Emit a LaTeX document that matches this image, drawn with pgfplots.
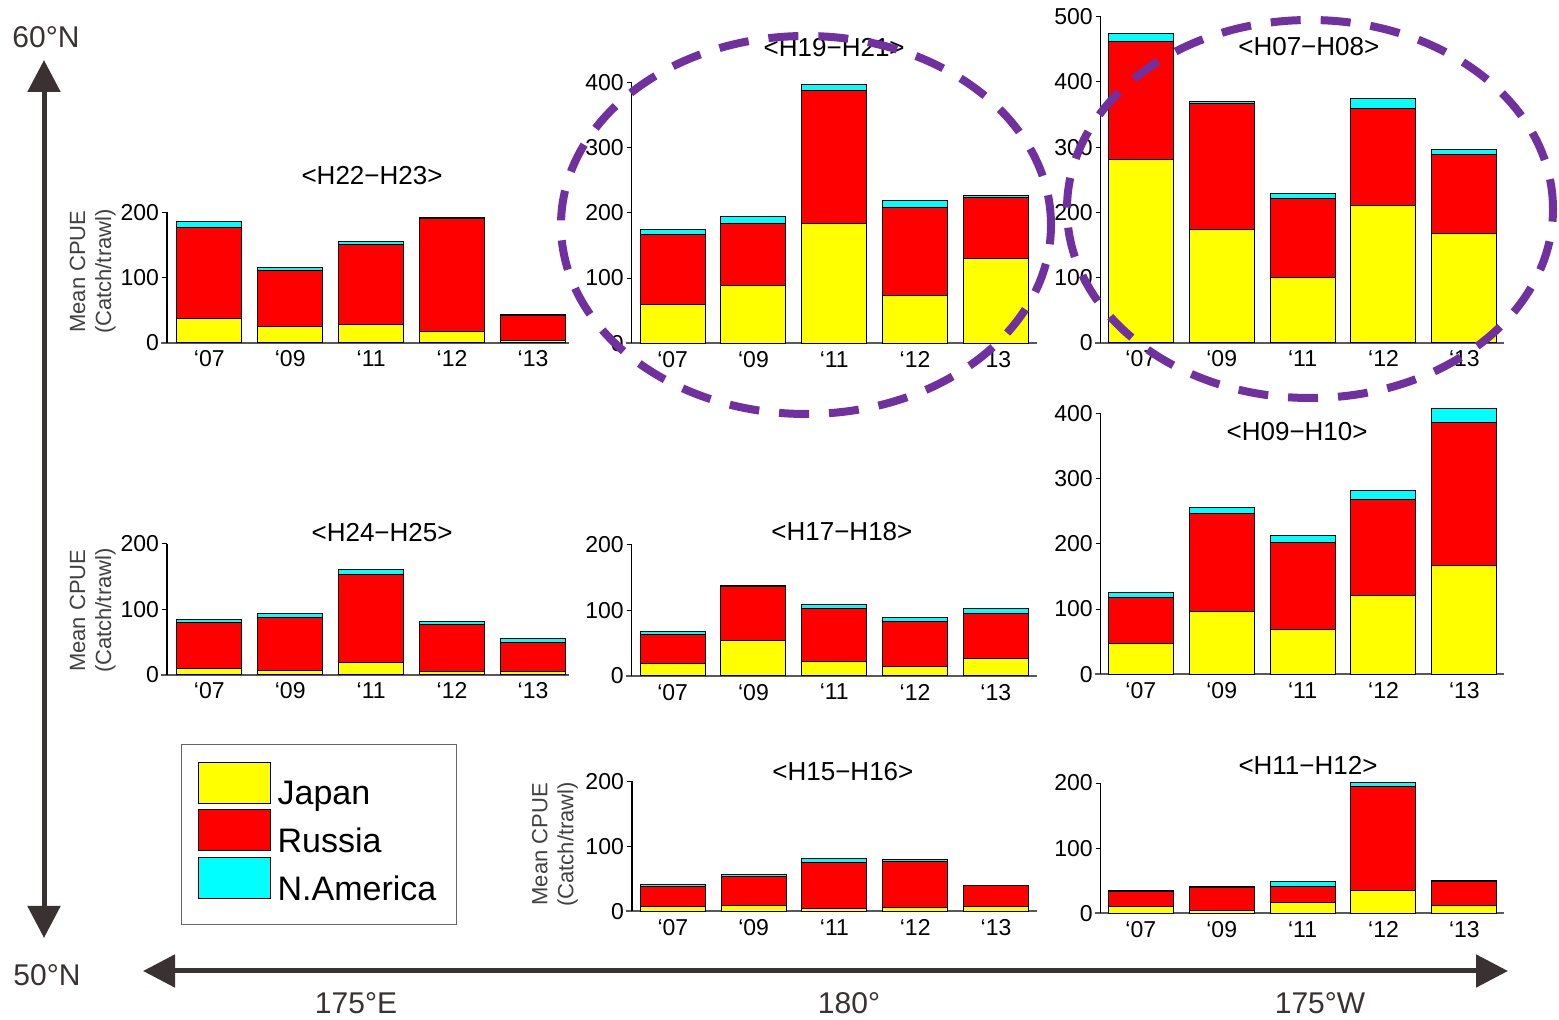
\documentclass[border=0pt]{standalone}
\usepackage{pgfplots}
\pgfplotsset{compat=1.18}
\usepackage{fontspec}
\setmainfont{Liberation Sans}
\usetikzlibrary{arrows.meta}
\definecolor{jp}{RGB}{255,255,0}
\definecolor{ru}{RGB}{255,0,0}
\definecolor{na}{RGB}{0,255,255}
\definecolor{geo}{HTML}{3A3232}
\definecolor{ring}{HTML}{7030A0}
\pgfplotsset{
 panel/.style={
  scale only axis, clip=false, ybar stacked, bar width=32.5pt,
  axis x line*=bottom, axis y line*=left,
  axis line style={-},
  x axis line style={draw=black!65, line width=0.9pt, shorten <=-3pt},
  y axis line style={draw=black, line width=0.6pt},
  xtick={0,1,2,3,4}, xticklabels={‘07,‘09,‘11,‘12,‘13},
  x tick style={draw=none},
  y tick style={draw=black, line width=0.5pt},
  tick align=outside, major tick length=2.5pt,
  ymin=0,
  tick label style={font=\fontsize{11.5}{13}\selectfont},
  xticklabel style={yshift=2pt},
  yticklabel style={xshift=2pt},
  /pgf/number format/assume math mode=true,
  title style={font=\fontsize{13}{15}\selectfont, anchor=center},
  ylabel style={font=\fontsize{11}{13}\selectfont, align=center, color=black!75, anchor=center},
  every axis plot/.append style={draw=black, line width=0.5pt},
 },
 xA/.style={xmin=-0.523, xmax=4.445, width=201pt},
 xB/.style={xmin=-0.507, xmax=4.506, width=202.5pt},
 xC/.style={xmin=-0.496, xmax=4.49, width=201.65pt},
}
\begin{document}
\begin{tikzpicture}
\useasboundingbox (0,0) rectangle (779.5pt,-510pt);

% A: H22-H23
\begin{axis}[panel, xA, at={(83.5pt,-171.35pt)}, anchor=south west, height=65.2pt, ymax=200, ytick={0,100,200},
 title={<H22−H23>}, title style={at={(axis description cs:0.51,1.186)}},
 ylabel={Mean CPUE\\(Catch/trawl)}, ylabel style={at={(axis description cs:-0.185,0.545)}}]
\addplot[fill=jp] coordinates {(0,37) (1,25) (2,28) (3,17) (4,3)};
\addplot[fill=ru] coordinates {(0,140) (1,85.5) (2,123) (3,173.3) (4,38)};
\addplot[fill=na] coordinates {(0,9) (1,4.5) (2,4) (3,1.5) (4,1.5)};
\end{axis}

% B: H19-H21
\begin{axis}[panel, xB, at={(315.85pt,-171.65pt)}, anchor=south west, height=130.5pt, ymax=400, ytick={0,100,200,300,400},
 title={<H19−H21>}, title style={at={(axis description cs:0.5,1.089)}}]
\addplot[fill=jp] coordinates {(0,59.3) (1,88.4) (2,183.4) (3,73.6) (4,129.8)};
\addplot[fill=ru] coordinates {(0,107.2) (1,95.6) (2,203.3) (3,133.8) (4,94)};
\addplot[fill=na] coordinates {(0,8.2) (1,10) (2,9.7) (3,11.2) (4,3)};
\end{axis}

% C: H07-H08
\begin{axis}[panel, xC, at={(550.35pt,-171.35pt)}, anchor=south west, height=163pt, ymax=500, ytick={0,100,200,300,400,500},
 title={<H07−H08>}, title style={at={(axis description cs:0.516,0.873)}}]
\addplot[fill=jp] coordinates {(0,281.2) (1,173.3) (2,100.7) (3,210) (4,167.2)};
\addplot[fill=ru] coordinates {(0,180.8) (1,193.7) (2,120.2) (3,148.9) (4,121.1)};
\addplot[fill=na] coordinates {(0,12.4) (1,2.6) (2,8.6) (3,15.3) (4,7.7)};
\end{axis}

% D: H24-H25
\begin{axis}[panel, xA, at={(83.5pt,-337.35pt)}, anchor=south west, height=65.35pt, ymax=200, ytick={0,100,200},
 title={<H24−H25>}, title style={at={(axis description cs:0.535,0.992)}},
 ylabel={Mean CPUE\\(Catch/trawl)}, ylabel style={at={(axis description cs:-0.185,0.49)}},
 legend style={at={(axis description cs:0.035,-0.53)}, anchor=north west, draw=black!60, line width=0.6pt,
   font=\fontsize{17}{20}\selectfont, row sep=-1.5pt, inner xsep=8pt, inner ysep=8.5pt, cells={anchor=west}},
 legend image code/.code={\draw[#1] (0pt,-4.25pt) rectangle (36pt,16.25pt); \path (37.5pt,6pt);}]
\addplot[fill=jp] coordinates {(0,9.2) (1,6.1) (2,19.4) (3,5.1) (4,5.1)};
\addplot[fill=ru] coordinates {(0,70.4) (1,81.1) (2,133.6) (3,71.4) (4,43.9)};
\addplot[fill=na] coordinates {(0,5.1) (1,6.2) (2,8.2) (3,4.6) (4,6.6)};
\legend{Japan,Russia,N.America\hspace{1.5pt}}
\end{axis}

% E: H17-H18
\begin{axis}[panel, xB, at={(315.85pt,-338pt)}, anchor=south west, height=65.5pt, ymax=200, ytick={0,100,200},
 title={<H17−H18>}, title style={at={(axis description cs:0.519,1.008)}}]
\addplot[fill=jp] coordinates {(0,18.8) (1,53.9) (2,21.9) (3,14.8) (4,26.5)};
\addplot[fill=ru] coordinates {(0,44.3) (1,83) (2,80.4) (3,68.7) (4,69.2)};
\addplot[fill=na] coordinates {(0,4.6) (1,2) (2,7.1) (3,6.1) (4,6.6)};
\end{axis}

% F: H09-H10
\begin{axis}[panel, xC, at={(550.35pt,-337.15pt)}, anchor=south west, height=130.5pt, ymax=400, ytick={0,100,200,300,400},
 title={<H09−H10>}, title style={at={(axis description cs:0.487,0.886)}}]
\addplot[fill=jp] coordinates {(0,47.5) (1,96) (2,68.5) (3,120.6) (4,167)};
\addplot[fill=ru] coordinates {(0,69.5) (1,149.7) (2,133.8) (3,147.6) (4,219.2)};
\addplot[fill=na] coordinates {(0,7.6) (1,10.2) (2,10.7) (3,13.8) (4,20.4)};
\end{axis}

% G: H15-H16
\begin{axis}[panel, xB, at={(315.95pt,-455.65pt)}, anchor=south west, height=65pt, ymax=200, ytick={0,100,200},
 title={<H15−H16>}, title style={at={(axis description cs:0.521,0.979)}},
 ylabel={Mean CPUE\\(Catch/trawl)}, ylabel style={at={(axis description cs:-0.19,0.515)}}]
\addplot[fill=jp] coordinates {(0,7.7) (1,8.7) (2,4.6) (3,6.2) (4,7.7)};
\addplot[fill=ru] coordinates {(0,30.3) (1,44.1) (2,70.3) (3,70.2) (4,31.3)};
\addplot[fill=na] coordinates {(0,3) (1,3.6) (2,6.6) (3,3.6) (4,1)};
\end{axis}

% H: H11-H12
\begin{axis}[panel, xC, at={(550.35pt,-456.65pt)}, anchor=south west, height=65.15pt, ymax=200, ytick={0,100,200},
 title={<H11−H12>}, title style={at={(axis description cs:0.514,1.046)}}]
\addplot[fill=jp] coordinates {(0,9.7) (1,3.6) (2,15.9) (3,34.8) (4,12.3)};
\addplot[fill=ru] coordinates {(0,23) (1,36.3) (2,26) (3,159.6) (4,36.8)};
\addplot[fill=na] coordinates {(0,1.6) (1,1.5) (2,6.2) (3,6.6) (4,1)};
\end{axis}

% geographic arrows and labels
\draw[geo, line width=2.5pt, {Triangle[width=16pt,length=16pt]}-{Triangle[width=16pt,length=16pt]}] (22pt,-30pt) -- (22pt,-469pt);
\draw[geo, line width=2.5pt, {Triangle[width=16pt,length=16pt]}-{Triangle[width=16pt,length=16pt]}] (71.5pt,-485.5pt) -- (754pt,-485.5pt);
\begin{scope}[every node/.style={text=geo, font=\fontsize{15}{18}\selectfont}]
\node at (23pt,-18.5pt) {60°N};
\node at (23.5pt,-487.5pt) {50°N};
\node at (178pt,-501.5pt) {175°E};
\node at (424.5pt,-501.5pt) {180°};
\node at (660pt,-501.5pt) {175°W};
\end{scope}

% dashed rings
\draw[ring, line width=4pt, dash pattern=on 15pt off 10pt] (403pt,-112.5pt) ellipse [x radius=122.5pt, y radius=94.5pt];
\draw[ring, line width=4pt, dash pattern=on 15pt off 10pt] (655pt,-104.5pt) ellipse [x radius=121.5pt, y radius=94.5pt];
\end{tikzpicture}
\end{document}
